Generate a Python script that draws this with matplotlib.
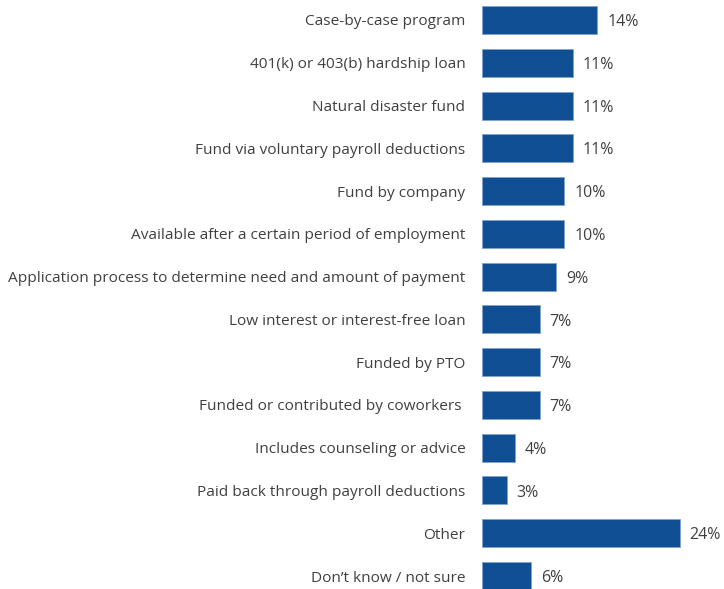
import matplotlib.pyplot as plt

# survey responses, top to bottom
labels = [
    "Case-by-case program",
    "401(k) or 403(b) hardship loan",
    "Natural disaster fund",
    "Fund via voluntary payroll deductions",
    "Fund by company",
    "Available after a certain period of employment",
    "Application process to determine need and amount of payment",
    "Low interest or interest-free loan",
    "Funded by PTO",
    "Funded or contributed by coworkers ",
    "Includes counseling or advice",
    "Paid back through payroll deductions",
    "Other",
    "Don\u2019t know / not sure",
]
values = [14, 11, 11, 11, 10, 10, 9, 7, 7, 7, 4, 3, 24, 6]

plt.rcParams['font.family'] = ['Open Sans', 'DejaVu Sans']

fig = plt.figure(figsize=(7.24, 5.89), dpi=100)
ax = fig.add_axes([482 / 724, 0, 242 / 724, 1])

pos = list(range(len(values)))
ax.barh(pos, values, height=0.655, color='#104F93', edgecolor='#7FA3CF', linewidth=0.6)

for p, v in zip(pos, values):
    ax.text(v + 1.2, p + 0.05, f"{v}%", va='center', ha='left', fontsize=11.5, color='#404040')

ax.set_xlim(0, 242 / 8.23)
ax.set_ylim(13 + 13 / 42.77, -20 / 42.77)
ax.set_yticks(pos)
ax.set_yticklabels(labels, fontsize=11.1, color='#404040')
ax.tick_params(axis='y', length=0, pad=12)
ax.set_xticks([])
for s in ax.spines.values():
    s.set_visible(False)

fig.savefig('out.png', dpi=100)
